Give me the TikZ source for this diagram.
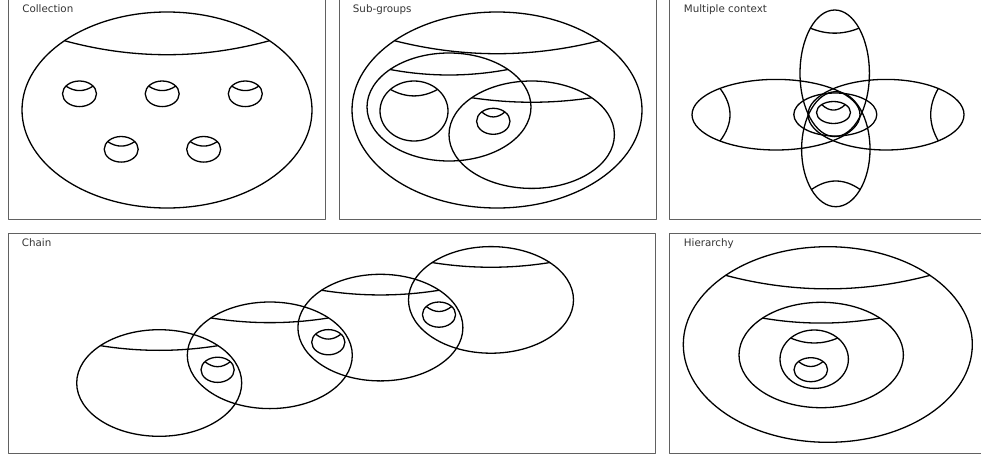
\documentclass[tikz,border=0pt]{standalone}
\usepackage{fontspec}
\setmainfont{DejaVu Sans}
% arc from (x1,y1) to (x2,y2) bulging by sag vector (sx,sy)
\newcommand\lidarc[6]{%
  \draw ({#1},{#2}) .. controls +({(#3-(#1))/3+4*(#5)/3},{(#4-(#2))/3+4*(#6)/3})
    and +({(#1-(#3))/3+4*(#5)/3},{(#2-(#4))/3+4*(#6)/3}) .. ({#3},{#4});}
% ellipse with a lid near its top: cx cy rx ry angle sag
\newcommand\lidell[6]{%
  \draw ({#1},{#2}) ellipse [x radius={#3}, y radius={#4}];
  \lidarc{#1-(#3)*cos(#5)}{#2-(#4)*sin(#5)}{#1+(#3)*cos(#5)}{#2-(#4)*sin(#5)}{0}{#6}}
\begin{document}
\begin{tikzpicture}[x=1pt,y=-1pt,line width=1.3pt,line join=round,
  frame/.style={draw=black!62,line width=1pt},
  lbl/.style={anchor=base west,inner sep=0pt,text=black!80,font=\fontsize{10.3}{12}\selectfont}]
\useasboundingbox (0,0) rectangle (981,458);
% frames
\draw[frame] (8,-2) rectangle (325,219.3);
\draw[frame] (339,-2) rectangle (656,219.3);
\draw[frame] (669.3,-2) rectangle (990,219.7);
\draw[frame] (8,233.3) rectangle (655,453.3);
\draw[frame] (669.3,233.3) rectangle (990,453.3);
% labels
\node[lbl] (tcoll) at (21.7,12.3) {Collection};
\node[lbl] (tsub) at (352.3,12.3) {Sub-groups};
\node[lbl] (tmult) at (683.3,12.3) {Multiple context};
\node[lbl] (tchain) at (21.3,246.6) {Chain};
\node[lbl] (thier) at (683.3,246.6) {Hierarchy};
% Collection
\lidell{167}{110}{145}{98}{45}{14}
\lidell{79.5}{93.8}{17}{12.8}{37}{4.5}
\lidell{162.2}{93.8}{17}{12.8}{37}{4.5}
\lidell{245.3}{93.8}{17}{12.8}{37}{4.5}
\lidell{121.2}{149.3}{17}{12.8}{37}{4.5}
\lidell{203.7}{149.3}{17}{12.8}{37}{4.5}
% Sub-groups
\lidell{497}{110}{145}{98}{45}{13}
\lidell{449}{107}{82}{54}{44}{5.5}
\lidell{414}{111}{34}{30}{46}{6.5}
\lidell{531.7}{134.7}{82.7}{53.7}{43.5}{4.5}
\lidell{493.3}{121.3}{16.7}{13}{46}{5}
% Multiple context
\draw (776,114.7) ellipse [x radius=84, y radius=35.3];
\lidarc{720}{88.4}{720}{141}{10}{0}
\draw (886,114.7) ellipse [x radius=78, y radius=35.3];
\lidarc{938.3}{88.5}{938.3}{140.9}{-7.6}{0}
\lidell{834.7}{73.3}{34.7}{63.3}{45.5}{5}
\draw (835.8,149.2) ellipse [x radius=34.2, y radius=57.5];
\lidarc{811.5}{189.5}{860.1}{189.5}{0}{-8.5}
\draw (835.3,114.5) ellipse [x radius=41.5, y radius=21.5];
\lidell{833.5}{112.5}{17}{11}{46}{5.5}
% Chain
\foreach \i in {0,...,3}{\lidell{159.2+110.6*\i}{383-27.7*\i}{82.5}{53.3}{44.5}{4.7}}
\foreach \i in {0,1,2}{\lidell{217.6+110.7*\i}{369.8-27.6*\i}{16.6}{12.6}{40}{5}}
% Hierarchy
\lidell{827.8}{344.5}{144.5}{97.8}{45}{13.5}
\lidell{821.2}{355}{82.2}{52.7}{44.5}{5}
\lidell{814.2}{359.2}{34.2}{29.2}{46.5}{5}
\lidell{810.8}{369.7}{16.8}{12}{43}{5}
\end{tikzpicture}
\end{document}
